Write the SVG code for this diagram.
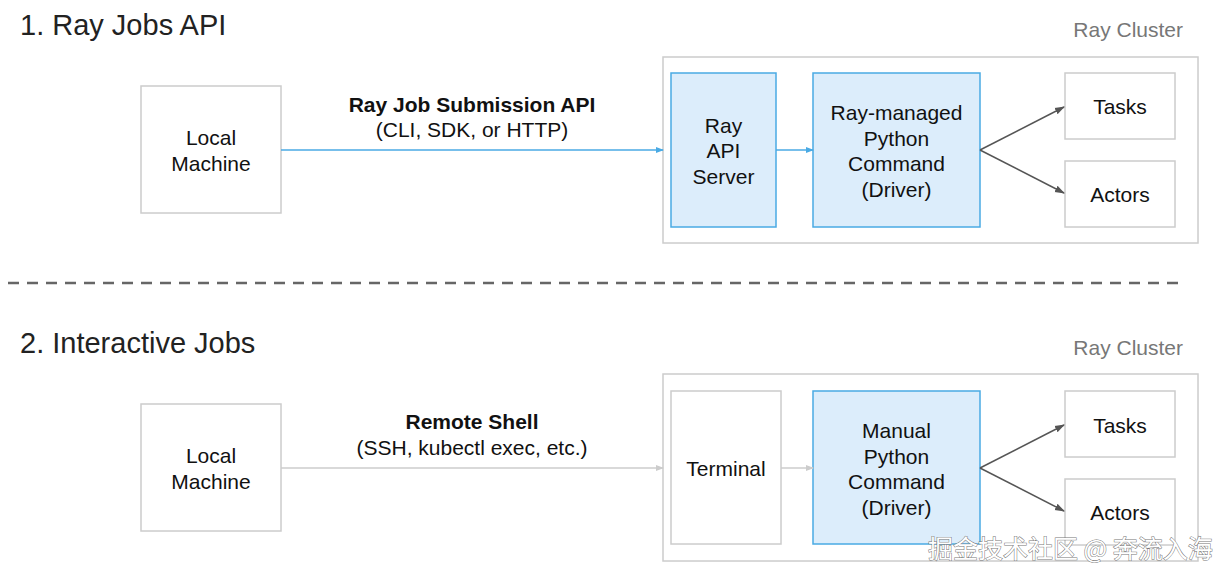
<svg xmlns="http://www.w3.org/2000/svg" width="1232" height="582" viewBox="0 0 1232 582">
<style>
text{font-family:"Liberation Sans",Arial,sans-serif;fill:#111}
.title{font-size:29px;fill:#222}
.t{font-size:21px;text-anchor:middle}
.lbl{font-size:21px;text-anchor:middle}
.b{font-weight:bold}
.cl{font-size:21px;fill:#777;text-anchor:end}
.box{fill:#fff;stroke:#cccccc;stroke-width:1.5}
.blue{fill:#dcedfb;stroke:#4aaae4;stroke-width:1.5}
.cluster{fill:#fff;stroke:#cccccc;stroke-width:1.5}
.wm{font-family:"Noto Sans CJK SC","Liberation Sans",sans-serif;font-size:25px;fill:#fff;stroke:#777;stroke-width:1;paint-order:stroke}
</style>
<defs>
<marker id="ab" markerWidth="8" markerHeight="8" refX="7" refY="4" orient="auto" markerUnits="userSpaceOnUse"><path d="M0,1 L8,4 L0,7 Z" fill="#4aaae4"/></marker>
<marker id="ag" markerWidth="8" markerHeight="8" refX="7" refY="4" orient="auto" markerUnits="userSpaceOnUse"><path d="M0,1 L8,4 L0,7 Z" fill="#cccccc"/></marker>
<marker id="ad" markerWidth="10" markerHeight="10" refX="9" refY="5" orient="auto" markerUnits="userSpaceOnUse"><path d="M0,1.5 L10,5 L0,8.5 Z" fill="#555"/></marker>
</defs>
<rect width="1232" height="582" fill="#fff"/>

<text class="title" x="20" y="35">1. Ray Jobs API</text>
<text class="title" x="20" y="353">2. Interactive Jobs</text>
<text class="cl" x="1183" y="37">Ray Cluster</text>
<text class="cl" x="1183" y="355">Ray Cluster</text>
<line x1="8" y1="283" x2="1178" y2="283" stroke="#666" stroke-width="2.5" stroke-dasharray="11 8"/>

<g id="cluster1"><rect class="cluster" x="663" y="57" width="535" height="186"/></g>
<g id="cluster2"><rect class="cluster" x="663" y="374" width="535" height="187"/></g>

<g id="local1"><rect class="box" x="141" y="86" width="140" height="127"/>
<text class="t" x="211" y="145">Local</text><text class="t" x="211" y="171">Machine</text></g>
<g id="apiserver"><rect class="blue" x="671" y="73" width="105" height="154"/>
<text class="t" x="723.5" y="133">Ray</text><text class="t" x="723.5" y="158">API</text><text class="t" x="723.5" y="184">Server</text></g>
<g id="driver1"><rect class="blue" x="813" y="73" width="167" height="154"/>
<text class="t" x="896.5" y="120">Ray-managed</text><text class="t" x="896.5" y="146">Python</text><text class="t" x="896.5" y="171">Command</text><text class="t" x="896.5" y="197">(Driver)</text></g>
<g id="tasks1"><rect class="box" x="1065" y="73" width="110" height="66"/>
<text class="t" x="1120" y="114">Tasks</text></g>
<g id="actors1"><rect class="box" x="1065" y="161" width="110" height="66"/>
<text class="t" x="1120" y="202">Actors</text></g>

<g id="local2"><rect class="box" x="141" y="404" width="140" height="127"/>
<text class="t" x="211" y="463">Local</text><text class="t" x="211" y="489">Machine</text></g>
<g id="terminal"><rect class="box" x="671" y="391" width="110" height="153"/>
<text class="t" x="726" y="476">Terminal</text></g>
<g id="driver2"><rect class="blue" x="813" y="391" width="167" height="153"/>
<text class="t" x="896.5" y="438">Manual</text><text class="t" x="896.5" y="464">Python</text><text class="t" x="896.5" y="489">Command</text><text class="t" x="896.5" y="515">(Driver)</text></g>
<g id="tasks2"><rect class="box" x="1065" y="391" width="110" height="66"/>
<text class="t" x="1120" y="433">Tasks</text></g>
<g id="actors2"><rect class="box" x="1065" y="479" width="110" height="66"/>
<text class="t" x="1120" y="520">Actors</text></g>

<g id="connectors" fill="none">
<line x1="281" y1="150" x2="663" y2="150" stroke="#4aaae4" stroke-width="1.5" marker-end="url(#ab)"/>
<line x1="776" y1="150" x2="813" y2="150" stroke="#4aaae4" stroke-width="1.5" marker-end="url(#ab)"/>
<line x1="980" y1="150" x2="1064" y2="107" stroke="#555" stroke-width="1.5" marker-end="url(#ad)"/>
<line x1="980" y1="150" x2="1064" y2="193" stroke="#555" stroke-width="1.5" marker-end="url(#ad)"/>
<line x1="281" y1="468" x2="663" y2="468" stroke="#cccccc" stroke-width="1.5" marker-end="url(#ag)"/>
<line x1="781" y1="468" x2="813" y2="468" stroke="#cccccc" stroke-width="1.5" marker-end="url(#ag)"/>
<line x1="980" y1="468" x2="1064" y2="425" stroke="#555" stroke-width="1.5" marker-end="url(#ad)"/>
<line x1="980" y1="468" x2="1064" y2="511" stroke="#555" stroke-width="1.5" marker-end="url(#ad)"/>
<text class="lbl b" x="472" y="112">Ray Job Submission API</text>
<text class="lbl" x="472" y="137">(CLI, SDK, or HTTP)</text>
<text class="lbl b" x="472" y="429">Remote Shell</text>
<text class="lbl" x="472" y="455">(SSH, kubectl exec, etc.)</text>
</g>

<text class="wm" x="928" y="558">掘金技术社区 @ 奔流入海</text>
</svg>
